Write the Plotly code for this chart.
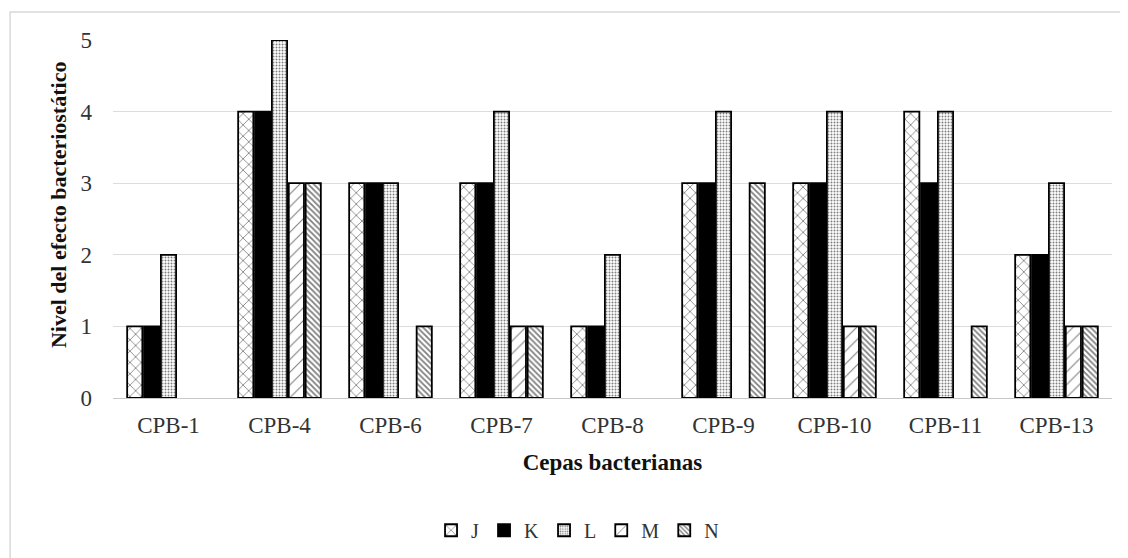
import plotly.graph_objects as go

categories = ["CPB-1", "CPB-4", "CPB-6", "CPB-7", "CPB-8", "CPB-9", "CPB-10", "CPB-11", "CPB-13"]
J = [1, 4, 3, 3, 1, 3, 3, 4, 2]
K = [1, 4, 3, 3, 1, 3, 3, 3, 2]
L = [2, 5, 3, 4, 2, 4, 4, 4, 3]
M = [0, 3, 0, 1, 0, 0, 1, 0, 1]
N = [0, 3, 1, 1, 0, 3, 1, 1, 1]
y_ticks = [0, 1, 2, 3, 4, 5]

series = [
    ("J", J, dict(shape="x", fgcolor="black", bgcolor="white", size=8, solidity=0.2)),
    ("K", K, dict(shape="", fgcolor="black", bgcolor="black")),
    ("L", L, dict(shape=".", fgcolor="black", bgcolor="white", size=3, solidity=0.35)),
    ("M", M, dict(shape="/", fgcolor="black", bgcolor="white", size=9, solidity=0.12)),
    ("N", N, dict(shape="\\", fgcolor="black", bgcolor="white", size=4, solidity=0.45)),
]

fig = go.Figure()
for name, vals, pat in series:
    fig.add_trace(go.Bar(
        x=categories, y=[v if v else None for v in vals], name=name,
        marker=dict(color="black" if name == "K" else "white",
                    line=dict(color="black", width=1.8),
                    pattern=pat),
    ))

font_family = "Liberation Serif, Times New Roman, serif"
fig.update_layout(
    width=1128, height=558,
    barmode="group", bargap=0.24, bargroupgap=0.1,
    plot_bgcolor="white", paper_bgcolor="white",
    font=dict(family=font_family, size=20, color="#222"),
    margin=dict(l=105, r=24, t=32, b=168, autoexpand=False),
    xaxis=dict(
        title=dict(text="<b>Cepas bacterianas</b>", font=dict(size=23, color="#111"), standoff=17),
        showline=True, linecolor="#c8c8c8", linewidth=1, automargin=False,
        tickfont=dict(size=23, color="#333"), ticks="", ticklabelstandoff=6,
    ),
    yaxis=dict(
        range=[0, 5], tickvals=y_ticks, showgrid=True, gridcolor="#dcdcdc", gridwidth=1,
        zeroline=False, tickfont=dict(size=23, color="#333"), ticks="", automargin=False,
        ticklabelstandoff=20,
    ),
    legend=dict(orientation="h", x=0.465, xanchor="center", y=-0.315, yanchor="top",
                font=dict(size=20, color="#333"), itemwidth=30, traceorder="normal"),
    annotations=[dict(text="<b>Nivel del efecto bacteriostático</b>", xref="paper", yref="paper",
                      x=-0.055, y=0.539, xanchor="center", yanchor="middle", textangle=-90,
                      showarrow=False, font=dict(size=22, color="#111"))],
    shapes=[dict(type="rect", xref="paper", yref="paper", x0=-0.103, x1=1.1, y0=-0.6, y1=1.078,
                 line=dict(color="#d9d9d9", width=1.5))],
)

fig.write_html("out.html")
